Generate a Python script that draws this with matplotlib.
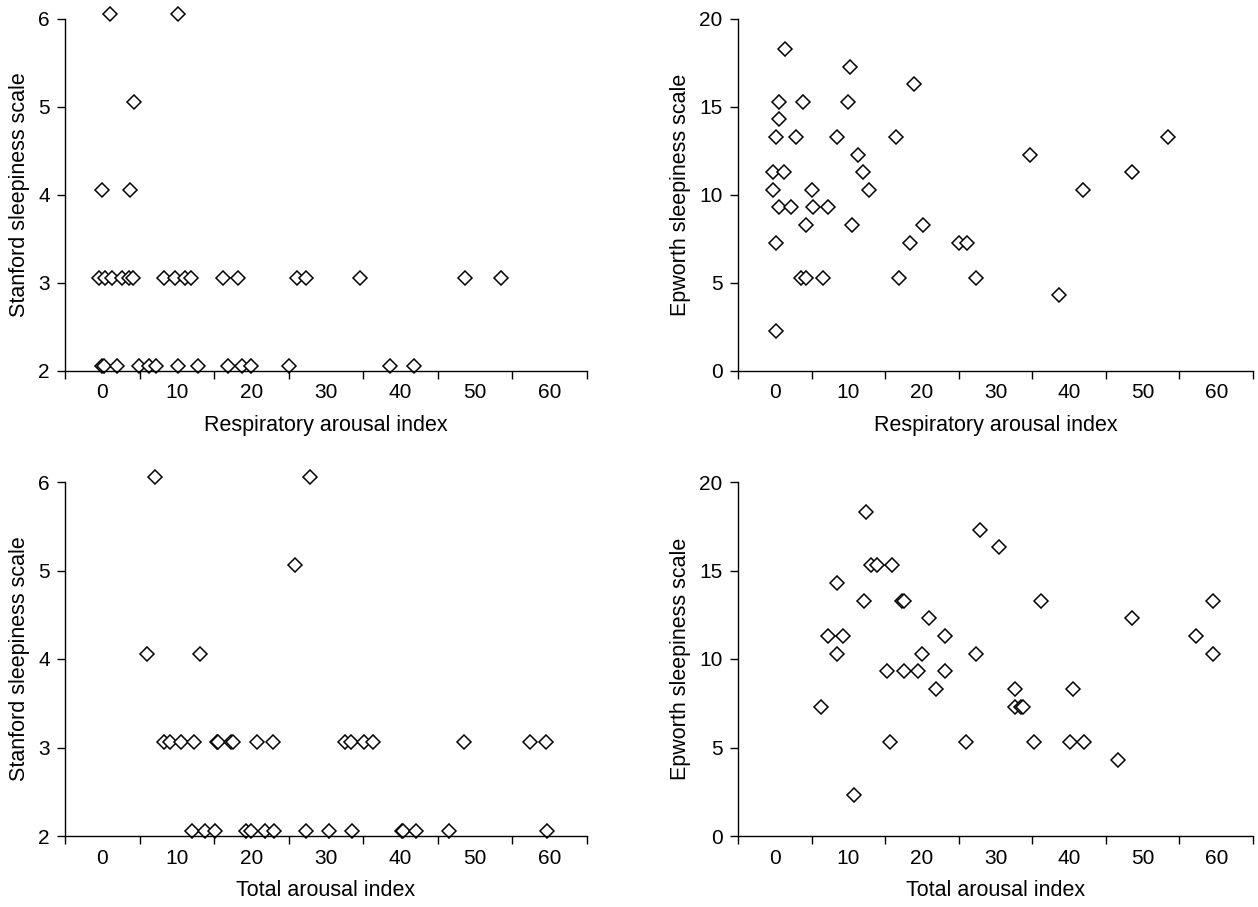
import matplotlib.pyplot as plt

plt.rcParams['font.family'] = ['Liberation Sans', 'DejaVu Sans']

# Respiratory arousal index vs Stanford sleepiness scale
resp_ssx = [1.0, 10.1, 4.3, -0.06, 3.7,
            -0.47, 0.36, 1.24, 2.62, 3.55, 4.15, 8.26, 9.79, 11.03, 11.87, 16.25, 18.24, 26.1, 27.34, 34.6, 48.6, 53.5,
            -0.06, 0.22, 1.98, 4.93, 6.32, 7.2, 10.2, 12.79, 16.81, 18.75, 19.95, 25.0, 38.6, 41.8]
resp_ssy = [6.06, 6.06, 5.06, 4.06, 4.06,
            3.06, 3.06, 3.06, 3.06, 3.06, 3.06, 3.06, 3.06, 3.06, 3.06, 3.06, 3.06, 3.06, 3.06, 3.06, 3.06, 3.06,
            2.06, 2.06, 2.06, 2.06, 2.06, 2.06, 2.06, 2.06, 2.06, 2.06, 2.06, 2.06, 2.06, 2.06]

# Respiratory arousal index vs Epworth sleepiness scale
resp_essx = [1.41, 10.26, 18.95, 0.64, 3.84, 9.97, 0.59, 0.15, 2.82, 8.46, 16.43, 53.45, 11.28, 34.7,
             -0.19, 1.22, 11.96, 48.6, -0.24, 5.1, 12.78, 41.84, 0.59, 2.19, 5.2, 7.29, 4.28, 10.45, 20.12,
             0.2, 18.37, 25.03, 26.15, 3.6, 4.28, 6.56, 16.87, 27.41, 38.59, 0.2]
resp_essy = [18.3, 17.3, 16.3, 15.3, 15.3, 15.3, 14.3, 13.3, 13.3, 13.3, 13.3, 13.3, 12.3, 12.3,
             11.3, 11.3, 11.3, 11.3, 10.3, 10.3, 10.3, 10.3, 9.3, 9.3, 9.3, 9.3, 8.3, 8.3, 8.3,
             7.3, 7.3, 7.3, 7.3, 5.3, 5.3, 5.3, 5.3, 5.3, 4.3, 2.3]

# Total arousal index vs Stanford sleepiness scale
tot_ssx = [7.11, 27.81, 25.87, 6.04, 13.07,
           8.26, 9.14, 10.57, 12.24, 15.33, 15.56, 17.27, 17.5, 20.79, 22.91, 32.57, 33.35, 35.16, 36.27, 48.56, 57.38, 59.51,
           12.05, 13.72, 15.15, 19.26, 19.95, 21.85, 22.96, 27.3, 30.4, 33.54, 40.15, 40.33, 42.09, 46.48, 59.65]
tot_ssy = [6.06, 6.06, 5.06, 4.06, 4.06,
           3.06, 3.06, 3.06, 3.06, 3.06, 3.06, 3.06, 3.06, 3.06, 3.06, 3.06, 3.06, 3.06, 3.06, 3.06, 3.06, 3.06,
           2.06, 2.06, 2.06, 2.06, 2.06, 2.06, 2.06, 2.06, 2.06, 2.06, 2.06, 2.06, 2.06, 2.06, 2.06]

# Total arousal index vs Epworth sleepiness scale
tot_essx = [12.35, 27.85, 30.52, 13.08, 13.85, 15.89, 8.51, 12.15, 17.3, 17.5, 36.25, 59.53, 20.95, 48.6,
            7.24, 9.33, 23.09, 57.2, 8.46, 20.02, 27.41, 59.63, 15.21, 17.6, 19.44, 23.09, 21.97, 32.71, 40.48,
            6.32, 32.71, 33.48, 33.73, 15.6, 25.95, 35.28, 40.19, 42.04, 46.6, 10.74]
tot_essy = [18.3, 17.3, 16.3, 15.3, 15.3, 15.3, 14.3, 13.3, 13.3, 13.3, 13.3, 13.3, 12.3, 12.3,
            11.3, 11.3, 11.3, 11.3, 10.3, 10.3, 10.3, 10.3, 9.3, 9.3, 9.3, 9.3, 8.3, 8.3, 8.3,
            7.3, 7.3, 7.3, 7.3, 5.3, 5.3, 5.3, 5.3, 5.3, 4.3, 2.3]

xlabels = ['0', '10', '20', '30', '40', '50', '60']

W, H = 1258, 907
fig = plt.figure(figsize=(W / 100, H / 100), dpi=100)

panels = [
    ([65, 19, 587, 371], resp_ssx, resp_ssy, 'Respiratory arousal index', 'Stanford sleepiness scale', (2, 6), [2, 3, 4, 5, 6]),
    ([738, 19, 1253, 371], resp_essx, resp_essy, 'Respiratory arousal index', 'Epworth sleepiness scale', (0, 20), [0, 5, 10, 15, 20]),
    ([65, 482, 587, 836], tot_ssx, tot_ssy, 'Total arousal index', 'Stanford sleepiness scale', (2, 6), [2, 3, 4, 5, 6]),
    ([738, 482, 1253, 836], tot_essx, tot_essy, 'Total arousal index', 'Epworth sleepiness scale', (0, 20), [0, 5, 10, 15, 20]),
]

for box, xs, ys, xl, yl, ylim, yt in panels:
    x0, y0, x1, y1 = box
    ax = fig.add_axes([x0 / W, 1 - y1 / H, (x1 - x0) / W, (y1 - y0) / H])
    ax.plot(xs, ys, linestyle='none', marker='D', markersize=7, markerfacecolor='white',
            markeredgecolor='black', markeredgewidth=1.1, clip_on=False)
    ax.set_xlim(-5, 65)
    ax.set_ylim(*ylim)
    ax.set_yticks(yt)
    ax.set_xticks(range(-5, 66, 10))
    ax.set_xticklabels([])
    ax.set_xticks(range(0, 61, 10), minor=True)
    ax.set_xticklabels(xlabels, minor=True)
    ax.tick_params(axis='x', which='major', direction='out', length=6, width=1)
    ax.tick_params(axis='x', which='minor', length=0, pad=9, labelsize=15)
    ax.tick_params(axis='y', direction='out', length=6, width=1, labelsize=15, pad=5)
    for s in ['top', 'right']:
        ax.spines[s].set_visible(False)
    for s in ['left', 'bottom']:
        ax.spines[s].set_linewidth(1)
    ax.set_xlabel(xl, fontsize=15.5, labelpad=9)
    ax.set_ylabel(yl, fontsize=15.5, labelpad=6)

plt.savefig('out.png', dpi=100)
